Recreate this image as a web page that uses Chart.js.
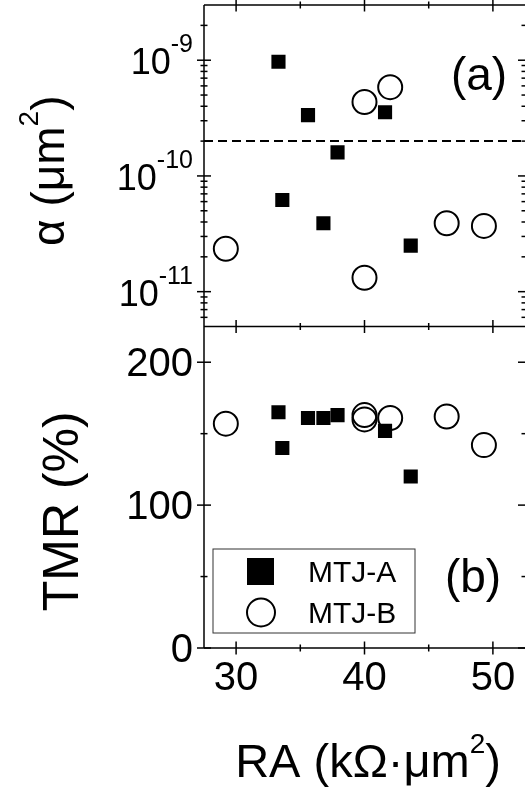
<!DOCTYPE html>
<html>
<head>
<meta charset="utf-8">
<script src="https://cdn.jsdelivr.net/npm/chart.js@4.4.1/dist/chart.umd.min.js"></script>
<style>
  html, body { margin: 0; padding: 0; background: #fff; }
  canvas { display: block; }
</style>
</head>
<body>
<canvas id="chart" width="525" height="796"></canvas>
<script>
// RA vs damping-like alpha (a) and TMR (b) for two MTJ batches
const FONT = '"Liberation Sans", Arial, Helvetica, sans-serif';

const raRange = [27.5, 52.5];
const alphaRange = [5e-12, 3e-9];
const tmrRange = [0, 225];
const alphaLimit = 2e-10;

const raA = [33.3, 33.6, 35.6, 36.8, 37.9, 41.6, 43.6];
const alphaA = [9.7e-10, 6.2e-11, 3.35e-10, 3.9e-11, 1.6e-10, 3.55e-10, 2.5e-11];
const tmrA = [165, 140, 161, 161, 163, 152, 120];

const raB = [29.2, 40.0, 40.0, 42.0, 46.4, 49.3];
const alphaB = [2.35e-11, 4.35e-10, 1.32e-11, 5.85e-10, 3.9e-11, 3.7e-11];
const tmrB = [157, 163, 160, 161, 162, 142];

const seriesNames = ['MTJ-A', 'MTJ-B'];

const raTicks = [30, 40, 50];
const raMinor = [35, 45];
const alphaTicks = [1e-11, 1e-10, 1e-9];
const alphaTickExp = ['-11', '-10', '-9'];
const tmrTicks = [0, 100, 200];
const tmrMinor = [50, 150];

const pts = (xs, ys) => xs.map((x, i) => ({ x, y: ys[i] }));

// draw text made of pieces [text, size, rise]
function drawRich(ctx, parts, x, y, align) {
    let total = 0;
    const widths = parts.map(([t, s]) => {
        ctx.font = s + 'px ' + FONT;
        const w = ctx.measureText(t).width;
        total += w;
        return w;
    });
    let cx = align === 'center' ? x - total / 2 : align === 'right' ? x - total : x;
    ctx.textAlign = 'left';
    ctx.textBaseline = 'alphabetic';
    parts.forEach(([t, s, rise], i) => {
        ctx.font = s + 'px ' + FONT;
        ctx.fillText(t, cx, y - (rise || 0));
        cx += widths[i];
    });
}

function line(ctx, x1, y1, x2, y2) {
    ctx.beginPath();
    ctx.moveTo(x1, y1);
    ctx.lineTo(x2, y2);
    ctx.stroke();
}

const framePlugin = {
    id: 'frame',
    afterDraw(chart) {
        const { ctx, chartArea: a, scales } = chart;
        const sx = scales.x, ya = scales.yA, yt = scales.yT;
        ctx.save();
        ctx.strokeStyle = '#000';
        ctx.fillStyle = '#000';
        ctx.lineWidth = 1.5;

        // panel frames (right edge falls just outside the picture)
        line(ctx, a.left, ya.top, a.left, yt.bottom);
        [ya.top, ya.bottom, yt.bottom].forEach(yy => line(ctx, a.left, yy, a.right, yy));

        // x ticks on every horizontal edge
        [ya.top, ya.bottom, yt.bottom].forEach(yy => {
            raTicks.forEach(v => { const px = sx.getPixelForValue(v); line(ctx, px, yy - 6.5, px, yy + 6.5); });
            raMinor.forEach(v => { const px = sx.getPixelForValue(v); line(ctx, px, yy - 3.5, px, yy + 3.5); });
        });

        // log ticks (a)
        const minorLog = [];
        [1e-12, 1e-11, 1e-10, 1e-9].forEach(d => {
            for (let m = 2; m <= 9; m++) {
                const v = m * d;
                if (v > alphaRange[0] && v < alphaRange[1]) minorLog.push(v);
            }
        });
        [a.left, a.right].forEach(xx => {
            alphaTicks.forEach(v => { const py = ya.getPixelForValue(v); line(ctx, xx - 7, py, xx + 7, py); });
            minorLog.forEach(v => { const py = ya.getPixelForValue(v); line(ctx, xx - 3.5, py, xx + 3.5, py); });
            tmrTicks.forEach(v => { const py = yt.getPixelForValue(v); line(ctx, xx - 7, py, xx + 7, py); });
            tmrMinor.forEach(v => { const py = yt.getPixelForValue(v); line(ctx, xx - 3.5, py, xx + 3.5, py); });
        });

        // tick labels
        const labelRight = a.left - 11;
        alphaTicks.forEach((v, i) => {
            const py = ya.getPixelForValue(v);
            drawRich(ctx, [['10', 36, 0], [alphaTickExp[i], 25, 22]], labelRight, py + 14, 'right');
        });
        tmrTicks.forEach(v => {
            const py = yt.getPixelForValue(v);
            drawRich(ctx, [[String(v), 40, 0]], labelRight, py + 14, 'right');
        });
        raTicks.forEach(v => {
            drawRich(ctx, [[String(v), 40, 0]], sx.getPixelForValue(v), yt.bottom + 42, 'center');
        });

        // axis titles
        drawRich(ctx, [['RA (k\u03A9\u00B7\u03BCm', 47, 0], ['2', 28, 24], [')', 47, 0]], 368, 777, 'center');

        ctx.save();
        ctx.translate(64, (ya.top + ya.bottom) / 2 + 5);
        ctx.rotate(-Math.PI / 2);
        drawRich(ctx, [['\u03B1 (\u03BCm', 46, 0], ['2', 28, 26], [')', 46, 0]], 0, 0, 'center');
        ctx.restore();

        ctx.save();
        ctx.translate(78, (yt.top + yt.bottom) / 2 + 24);
        ctx.rotate(-Math.PI / 2);
        drawRich(ctx, [['TMR (%)', 50, 0]], 0, 0, 'center');
        ctx.restore();

        // panel letters
        drawRich(ctx, [['(a)', 46, 0]], 479, 90, 'center');
        drawRich(ctx, [['(b)', 46, 0]], 473, 592, 'center');

        // legend
        ctx.lineWidth = 1;
        ctx.strokeStyle = '#333';
        ctx.strokeRect(213, 549, 202, 84);
        ctx.fillStyle = '#000';
        ctx.fillRect(247, 558, 27, 27);
        ctx.lineWidth = 2;
        ctx.strokeStyle = '#000';
        ctx.beginPath();
        ctx.arc(261, 612.5, 14, 0, Math.PI * 2);
        ctx.stroke();
        drawRich(ctx, [[seriesNames[0], 30, 0]], 308, 582, 'left');
        drawRich(ctx, [[seriesNames[1], 30, 0]], 308, 623, 'left');

        ctx.restore();
    }
};

const squareStyle = {
    pointStyle: 'rect',
    pointRadius: 10,
    pointBackgroundColor: '#000',
    pointBorderColor: '#000',
    pointBorderWidth: 0,
    showLine: false
};
const circleStyle = {
    pointStyle: 'circle',
    pointRadius: 12,
    pointBackgroundColor: 'rgba(0,0,0,0)',
    pointBorderColor: '#000',
    pointBorderWidth: 2,
    showLine: false
};

const hidden = {
    ticks: { display: false },
    grid: { display: false, drawTicks: false },
    border: { display: false }
};

new Chart(document.getElementById('chart'), {
    type: 'scatter',
    data: {
        datasets: [
            { label: seriesNames[0], data: pts(raA, alphaA), yAxisID: 'yA', ...squareStyle },
            { label: seriesNames[0], data: pts(raA, tmrA), yAxisID: 'yT', ...squareStyle },
            { label: seriesNames[1], data: pts(raB, alphaB), yAxisID: 'yA', ...circleStyle },
            { label: seriesNames[1], data: pts(raB, tmrB), yAxisID: 'yT', ...circleStyle },
            {
                type: 'line',
                label: 'limit',
                data: [{ x: raRange[0], y: alphaLimit }, { x: raRange[1], y: alphaLimit }],
                yAxisID: 'yA',
                borderColor: '#000',
                borderWidth: 2,
                borderDash: [9, 5],
                pointRadius: 0,
                fill: false
            }
        ]
    },
    options: {
        responsive: false,
        animation: false,
        events: [],
        layout: { autoPadding: false, padding: { left: 204, right: 0, top: 5, bottom: 148 } },
        plugins: { legend: { display: false }, tooltip: { enabled: false } },
        scales: {
            x: { type: 'linear', position: 'bottom', min: raRange[0], max: raRange[1], ...hidden },
            // the last scale in a stack is laid out on top
            yT: { type: 'linear', position: 'left', stack: 'panels', stackWeight: 1,
                  min: tmrRange[0], max: tmrRange[1], ...hidden },
            yA: { type: 'logarithmic', position: 'left', stack: 'panels', stackWeight: 1,
                  min: alphaRange[0], max: alphaRange[1], ...hidden }
        }
    },
    plugins: [framePlugin]
});
</script>
</body>
</html>
